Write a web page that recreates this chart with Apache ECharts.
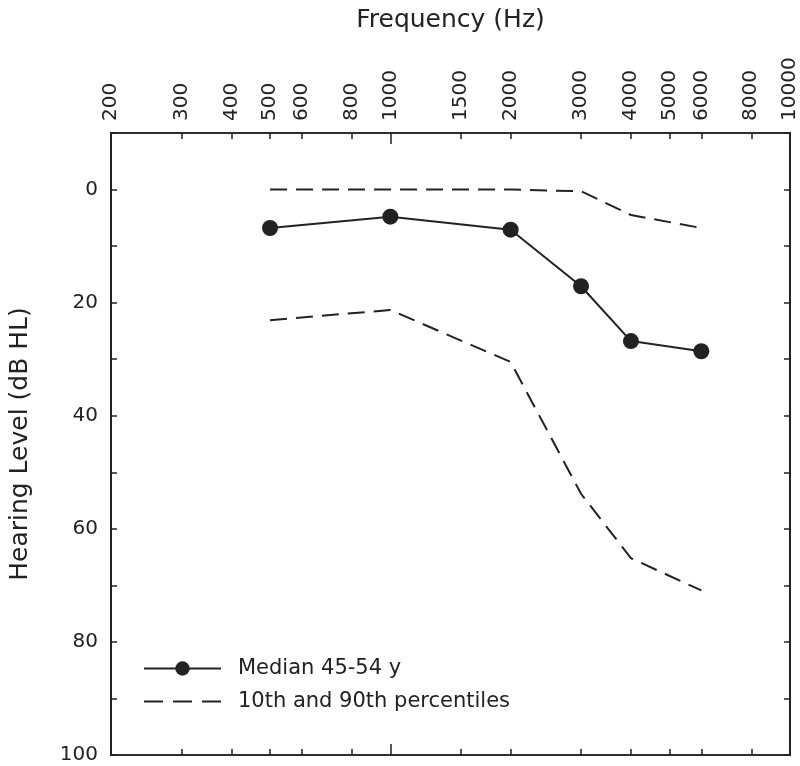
<!DOCTYPE html>
<html>
<head>
<meta charset="utf-8">
<script src="https://cdn.jsdelivr.net/npm/echarts@6/dist/echarts.min.js"></script>
<style>html,body{margin:0;padding:0;background:#fff;}#c{width:800px;height:766px;}</style>
</head>
<body>
<div id="c"></div>
<script>
const freqTicks = [200, 300, 400, 500, 600, 800, 1000, 1500, 2000, 3000, 4000, 5000, 6000, 8000, 10000];
const longTicks = [1000];
const freqs = [500, 1000, 2000, 3000, 4000, 6000];
const median = [6.8, 4.8, 7.1, 17.1, 26.8, 28.6];
const p10 = [0, 0, 0, 0.3, 4.5, 6.8];
const p90 = [23.1, 21.3, 30.5, 53.8, 65.2, 70.9];
const yLabelValues = [0, 20, 40, 60, 80, 100];

const ink = '#222';
const font = 'DejaVu Sans, Liberation Sans, Arial, sans-serif';
const pairs = (xs, ys) => xs.map((x, i) => [x, ys[i]]);

const xBase = {
  type: 'log', logBase: 10, min: 200, max: 10000, gridIndex: 0,
  splitLine: { show: false }, minorTick: { show: false },
  axisLine: { show: true, onZero: false, lineStyle: { color: ink, width: 1.5 } }
};
const chart = echarts.init(document.getElementById('c'));
chart.setOption({
  animation: false,
  backgroundColor: '#fff',
  grid: { left: 108, right: 8, top: 133, bottom: 11, containLabel: false },
  xAxis: [
    Object.assign({}, xBase, {
      position: 'top',
      name: 'Frequency (Hz)', nameLocation: 'middle', nameGap: 100,
      nameTextStyle: { fontSize: 25, color: ink, fontFamily: font },
      axisTick: { show: true, inside: true, length: 6, customValues: freqTicks, lineStyle: { color: ink, width: 1.5 } },
      axisLabel: { show: true, rotate: -90, margin: 12, fontSize: 20, color: ink, fontFamily: font,
        customValues: freqTicks, formatter: v => String(Math.round(v)) }
    }),
    Object.assign({}, xBase, {
      position: 'bottom',
      axisTick: { show: true, inside: true, length: 6, customValues: freqTicks, lineStyle: { color: ink, width: 1.5 } },
      axisLabel: { show: false }
    }),
    Object.assign({}, xBase, {
      position: 'top',
      axisTick: { show: true, inside: true, length: 11, customValues: longTicks, lineStyle: { color: ink, width: 1.5 } },
      axisLabel: { show: false }
    }),
    Object.assign({}, xBase, {
      position: 'bottom',
      axisTick: { show: true, inside: true, length: 11, customValues: longTicks, lineStyle: { color: ink, width: 1.5 } },
      axisLabel: { show: false }
    })
  ],
  yAxis: [
    {
      type: 'value', inverse: true, min: -10, max: 100, interval: 10, position: 'left',
      name: 'Hearing Level (dB HL)', nameLocation: 'middle', nameGap: 78,
      nameTextStyle: { fontSize: 25, color: ink, fontFamily: font },
      splitLine: { show: false },
      axisLine: { show: true, onZero: false, lineStyle: { color: ink, width: 2 } },
      axisTick: { show: true, inside: true, length: 6, lineStyle: { color: ink, width: 1.5 } },
      axisLabel: { show: true, margin: 13, fontSize: 20, color: ink, fontFamily: font,
        formatter: v => (yLabelValues.indexOf(v) >= 0 ? String(v) : '') }
    },
    {
      type: 'value', inverse: true, min: -10, max: 100, interval: 10, position: 'right',
      splitLine: { show: false },
      axisLine: { show: true, onZero: false, lineStyle: { color: ink, width: 2 } },
      axisTick: { show: true, inside: true, length: 6, lineStyle: { color: ink, width: 1.5 } },
      axisLabel: { show: false }
    }
  ],
  legend: {
    orient: 'vertical', left: 138, top: 653, itemWidth: 77, itemHeight: 18, itemGap: 12,
    textStyle: { fontSize: 21, color: ink, fontFamily: font, padding: [0, 0, 0, 12] },
    data: [
      'Median 45-54 y',
      { name: '10th and 90th percentiles',
        icon: 'path://M0,0h19v2h-19z M29,0h19v2h-19z M58,0h19v2h-19z',
        itemStyle: { color: ink, borderWidth: 0 } }
    ]
  },
  series: [
    {
      name: 'Median 45-54 y', type: 'line', xAxisIndex: 0, yAxisIndex: 0,
      data: pairs(freqs, median), symbol: 'circle', symbolSize: 16,
      itemStyle: { color: ink }, lineStyle: { color: ink, width: 2 }
    },
    {
      name: '10th and 90th percentiles', type: 'line', xAxisIndex: 0, yAxisIndex: 0,
      data: pairs(freqs, p10), symbol: 'none', itemStyle: { color: ink },
      lineStyle: { color: ink, width: 2, type: [17, 9] }
    },
    {
      name: '10th and 90th percentiles', type: 'line', xAxisIndex: 0, yAxisIndex: 0,
      data: pairs(freqs, p90), symbol: 'none', itemStyle: { color: ink },
      lineStyle: { color: ink, width: 2, type: [17, 9] }
    }
  ]
});
</script>
</body>
</html>
